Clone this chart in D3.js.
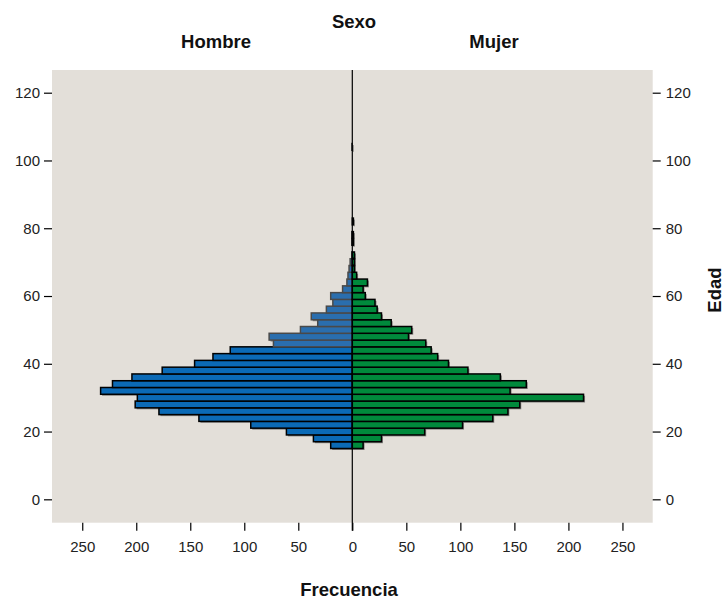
<!DOCTYPE html>
<html>
<head>
<meta charset="utf-8">
<script src="https://cdn.jsdelivr.net/npm/d3@7"></script>
<style>
  html, body { margin: 0; padding: 0; background: #ffffff; }
  svg { display: block; font-family: "Liberation Sans", Arial, sans-serif; }
</style>
</head>
<body>
<svg id="chart" width="726" height="599"></svg>
<script>
// Age bins (lower bound of each 2-year bin)
const ages = [15,17,19,21,23,25,27,29,31,33,35,37,39,41,43,45,47,49,51,53,55,57,59,61,63,65,67,69,71,73,75,77,79,81,103];
const hombre = [20,36,61,94,142,179,201,199,233,222,204,176,146,129,113,73,77,48,32,38,24,18,20,9,5,4,3,2,1,0,1,1,0,0,1];
const mujer  = [10,27,67,102,130,144,155,214,146,161,137,107,89,79,73,68,52,55,36,27,23,21,12,10,14,4,2,2,2,0,1,1,0,1,0];
const binWidth = 2;
const xTicks = [0,50,100,150,200,250];
const yTicks = [0,20,40,60,80,100,120];
const panelLabels = ["Hombre", "Mujer"];

(function () {
const svg = d3.select("#chart");
const pL = 52, pR = 652.7, pT = 70, pB = 522.7, mid = 352.3;

const xL = d3.scaleLinear().domain([0, 278]).range([mid, pL]);
const xR = d3.scaleLinear().domain([0, 278]).range([mid, pR]);
const y = d3.scaleLinear().domain([-6.9, 126.7]).range([pB, pT]);

// background
svg.append("rect").attr("x", pL).attr("y", pT)
  .attr("width", pR - pL).attr("height", pB - pT)
  .attr("fill", "#e3dfd9");

const defs = svg.append("defs");
defs.append("filter").attr("id", "shadow").attr("x", "-20%").attr("y", "-50%").attr("width", "140%").attr("height", "200%")
  .append("feGaussianBlur").attr("stdDeviation", 0.6);
defs.append("filter").attr("id", "soft").attr("x", "-10%").attr("y", "-30%").attr("width", "120%").attr("height", "160%")
  .append("feGaussianBlur").attr("stdDeviation", 0.5);

const data = ages.map((a, i) => ({ age: a, m: hombre[i], f: mujer[i] }));

// shadows
const gS = svg.append("g").attr("filter", "url(#shadow)");
gS.selectAll("rect.sm").data(data.filter(d => d.m > 0)).join("rect")
  .attr("x", d => xL(d.m) + 1.5).attr("y", d => y(d.age + binWidth) + 1.5)
  .attr("width", d => xL(0) - xL(d.m)).attr("height", d => y(d.age) - y(d.age + binWidth))
  .attr("fill", "rgba(60,60,60,0.55)");
gS.selectAll("rect.sf").data(data.filter(d => d.f > 0)).join("rect")
  .attr("x", d => xR(0) + 1.5).attr("y", d => y(d.age + binWidth) + 1.5)
  .attr("width", d => xR(d.f) - xR(0)).attr("height", d => y(d.age) - y(d.age + binWidth))
  .attr("fill", "rgba(60,60,60,0.55)");

// male bars
svg.append("g").selectAll("rect").data(data.filter(d => d.m > 0)).join("rect")
  .attr("x", d => xL(d.m)).attr("y", d => y(d.age + binWidth))
  .attr("width", d => xL(0) - xL(d.m)).attr("height", d => y(d.age) - y(d.age + binWidth))
  .attr("fill", d => d.age >= 45 ? "#2a6eae" : "#0b6ab6")
  .attr("stroke", d => d.age >= 45 ? "#4a4a4a" : "#000")
  .attr("filter", d => d.age >= 45 ? "url(#soft)" : null)
  .attr("stroke-width", 1.5);

// female bars
svg.append("g").selectAll("rect").data(data.filter(d => d.f > 0)).join("rect")
  .attr("x", xR(0)).attr("y", d => y(d.age + binWidth))
  .attr("width", d => xR(d.f) - xR(0)).attr("height", d => y(d.age) - y(d.age + binWidth))
  .attr("fill", "#008a3c").attr("stroke", "#000").attr("stroke-width", 1.5);

// center line
svg.append("line").attr("x1", mid).attr("x2", mid).attr("y1", pT).attr("y2", pB + 8)
  .attr("stroke", "#000").attr("stroke-width", 1.2);

function styleAxis(g) {
  g.select(".domain").remove();
  g.selectAll(".tick line").attr("stroke", "#000").attr("stroke-width", 1.2);
  g.selectAll(".tick text").attr("fill", "#222").style("font-size", "15px")
    .style("font-family", "'Liberation Sans', Arial, sans-serif");
}
svg.append("g").attr("transform", `translate(0,${pB})`)
  .call(d3.axisBottom(xL).tickValues(xTicks.slice(1)).tickSize(8).tickPadding(11).tickFormat(d3.format("d")))
  .call(styleAxis);
svg.append("g").attr("transform", `translate(0,${pB})`)
  .call(d3.axisBottom(xR).tickValues(xTicks).tickSize(8).tickPadding(11).tickFormat(d3.format("d")))
  .call(styleAxis);

svg.append("g").attr("transform", `translate(${pL},0)`)
  .call(d3.axisLeft(y).tickValues(yTicks).tickSize(8).tickPadding(4))
  .call(styleAxis);
svg.append("g").attr("transform", `translate(${pR},0)`)
  .call(d3.axisRight(y).tickValues(yTicks).tickSize(8).tickPadding(5))
  .call(styleAxis);

function title(txt, x, yy, rot) {
  const t = svg.append("text").attr("x", x).attr("y", yy).attr("text-anchor", "middle").text(txt)
    .style("font-weight", "bold").style("font-size", "18.5px").style("fill", "#111");
  if (rot) t.attr("transform", `rotate(-90,${x},${yy})`);
  return t;
}
title("Sexo", 354, 28);
title(panelLabels[0], 216, 48);
title(panelLabels[1], 494, 48);
title("Frecuencia", 349, 596);
title("Edad", 721, 290, true);
})();
</script>
</body>
</html>
